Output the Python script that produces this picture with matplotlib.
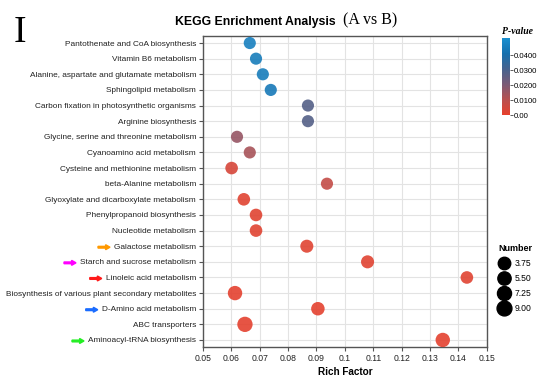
import matplotlib
matplotlib.use("Agg")
import matplotlib.pyplot as plt
from matplotlib.colors import LinearSegmentedColormap, Normalize
from matplotlib.lines import Line2D
import numpy as np

pathways = [
    "Pantothenate and CoA biosynthesis",
    "Vitamin B6 metabolism",
    "Alanine, aspartate and glutamate metabolism",
    "Sphingolipid metabolism",
    "Carbon fixation in photosynthetic organisms",
    "Arginine biosynthesis",
    "Glycine, serine and threonine metabolism",
    "Cyanoamino acid metabolism",
    "Cysteine and methionine metabolism",
    "beta-Alanine metabolism",
    "Glyoxylate and dicarboxylate metabolism",
    "Phenylpropanoid biosynthesis",
    "Nucleotide metabolism",
    "Galactose metabolism",
    "Starch and sucrose metabolism",
    "Linoleic acid metabolism",
    "Biosynthesis of various plant secondary metabolites",
    "D-Amino acid metabolism",
    "ABC transporters",
    "Aminoacyl-tRNA biosynthesis",
]
rich_factor = [0.0665, 0.0687, 0.0711, 0.0739, 0.0870, 0.0870, 0.0620, 0.0665,
               0.0601, 0.0937, 0.0644, 0.0687, 0.0687, 0.0866, 0.1080, 0.1430,
               0.0613, 0.0905, 0.0648, 0.1345]
p_values = [0.046, 0.045, 0.045, 0.044, 0.028, 0.028, 0.016, 0.013,
            0.004, 0.008, 0.002, 0.002, 0.002, 0.002, 0.002, 0.002,
            0.001, 0.001, 0.001, 0.001]
counts = [3, 3, 3, 3, 3, 3, 3, 3, 4, 3, 4, 4, 4, 5, 5, 4, 8, 6, 10, 8]
arrow_marks = {
    "Galactose metabolism": "#ff9900",
    "Starch and sucrose metabolism": "#ff00ff",
    "Linoleic acid metabolism": "#ff1a1a",
    "D-Amino acid metabolism": "#1a6cff",
    "Aminoacyl-tRNA biosynthesis": "#22ee22",
}
legend_numbers = [3.75, 5.50, 7.25, 9.00]
cbar_ticks = [0.00, 0.01, 0.02, 0.03, 0.04]
cbar_ticklabels = ["0.00", "0.0100", "0.0200", "0.0300", "0.0400"]
x_ticks = [0.05, 0.06, 0.07, 0.08, 0.09, 0.10, 0.11, 0.12, 0.13, 0.14, 0.15]
x_ticklabels = ["0.05", "0.06", "0.07", "0.08", "0.09", "0.1", "0.11", "0.12", "0.13", "0.14", "0.15"]

SANS = ["Liberation Sans", "DejaVu Sans"]
SERIF = ["Liberation Serif", "DejaVu Serif"]
plt.rcParams['font.family'] = SANS

cmap = LinearSegmentedColormap.from_list(
    "pv", [(0.0, "#e8402c"), (0.2, "#b8504f"), (0.4, "#7a5a76"),
           (0.6, "#46628e"), (0.8, "#1670ae"), (1.0, "#1a90d0")])
norm = Normalize(vmin=0.0, vmax=0.0513)

def size_of(n):
    d_px = 10.8 + 0.45 * n
    d_pt = d_px * 72 / 100
    return d_pt ** 2

fig = plt.figure(figsize=(5.5, 3.81), dpi=100)
ax = fig.add_axes([0.369, 0.0892, 0.516, 0.8163])

y = np.arange(len(pathways))
ax.scatter(rich_factor, y, s=[size_of(n) for n in counts], c=p_values,
           cmap=cmap, norm=norm, alpha=0.9, edgecolors="none", zorder=3)

ax.set_xlim(0.05, 0.15)
ax.set_ylim(len(pathways) - 0.55, -0.45)
ax.set_xticks(x_ticks)
ax.set_xticklabels(x_ticklabels, fontsize=6.2)
ax.set_yticks(y)
ax.set_yticklabels(pathways, fontsize=5.95)
ax.grid(True, color="#e3e3e3", linewidth=0.8, zorder=0)
ax.set_axisbelow(True)
for s in ax.spines.values():
    s.set_color("#555555")
    s.set_linewidth(1.0)
ax.tick_params(axis="both", length=3, width=0.8, color="#555555", pad=2, labelcolor="#222222")
ax.set_xlabel("Rich Factor", fontsize=7.2, fontweight="bold", labelpad=3)

# Title
fig.text(0.318, 0.935, "KEGG Enrichment Analysis", fontsize=8.8, fontweight="bold",
         ha="left", va="baseline", family=SANS)
fig.text(0.624, 0.935, "(A vs B)", fontsize=11.5, ha="left", va="baseline", family=SERIF)
fig.text(0.025, 0.89, "I", fontsize=27, ha="left", va="baseline", family=SERIF)

# Colorbar
cax = fig.add_axes([0.9127, 0.698, 0.0145, 0.202])
sm = plt.cm.ScalarMappable(norm=norm, cmap=cmap)
cb = fig.colorbar(sm, cax=cax, ticks=cbar_ticks)
cb.ax.set_yticklabels(cbar_ticklabels, fontsize=5.6)
cb.ax.tick_params(length=2, width=0.6, pad=1, color="#444444")
cb.outline.set_visible(False)
cax.set_title("P-value", fontsize=7, fontstyle="italic", fontweight="bold",
              family=SERIF, pad=3, loc="left")

# Number legend
handles = [Line2D([], [], linestyle="none", marker="o", color="black",
                  markersize=np.sqrt(size_of(n)), label=f"{n:.2f}") for n in legend_numbers]
leg = fig.legend(handles=handles, loc="upper left", bbox_to_anchor=(0.895, 0.375),
                 frameon=False, fontsize=6.2, title="Number",
                 title_fontproperties={"weight": "bold", "size": 6.5, "family": SANS},
                 labelspacing=0.7, handletextpad=0.6, handlelength=1.2, borderpad=0.2)

# Arrows before some labels
fig.canvas.draw()
renderer = fig.canvas.get_renderer()
inv = fig.transFigure.inverted()
for lab in ax.get_yticklabels():
    txt = lab.get_text()
    if txt in arrow_marks:
        bb = lab.get_window_extent(renderer)
        x0, yc = inv.transform((bb.x0 - 4, (bb.y0 + bb.y1) / 2))
        x1, _ = inv.transform((bb.x0 - 16, 0))
        fig.add_artist(matplotlib.patches.FancyArrow(
            x1, yc, x0 - x1, 0, width=0.0045, head_width=0.013, head_length=0.008,
            length_includes_head=True, color=arrow_marks[txt], transform=fig.transFigure))

fig.savefig("out.png", dpi=100)
